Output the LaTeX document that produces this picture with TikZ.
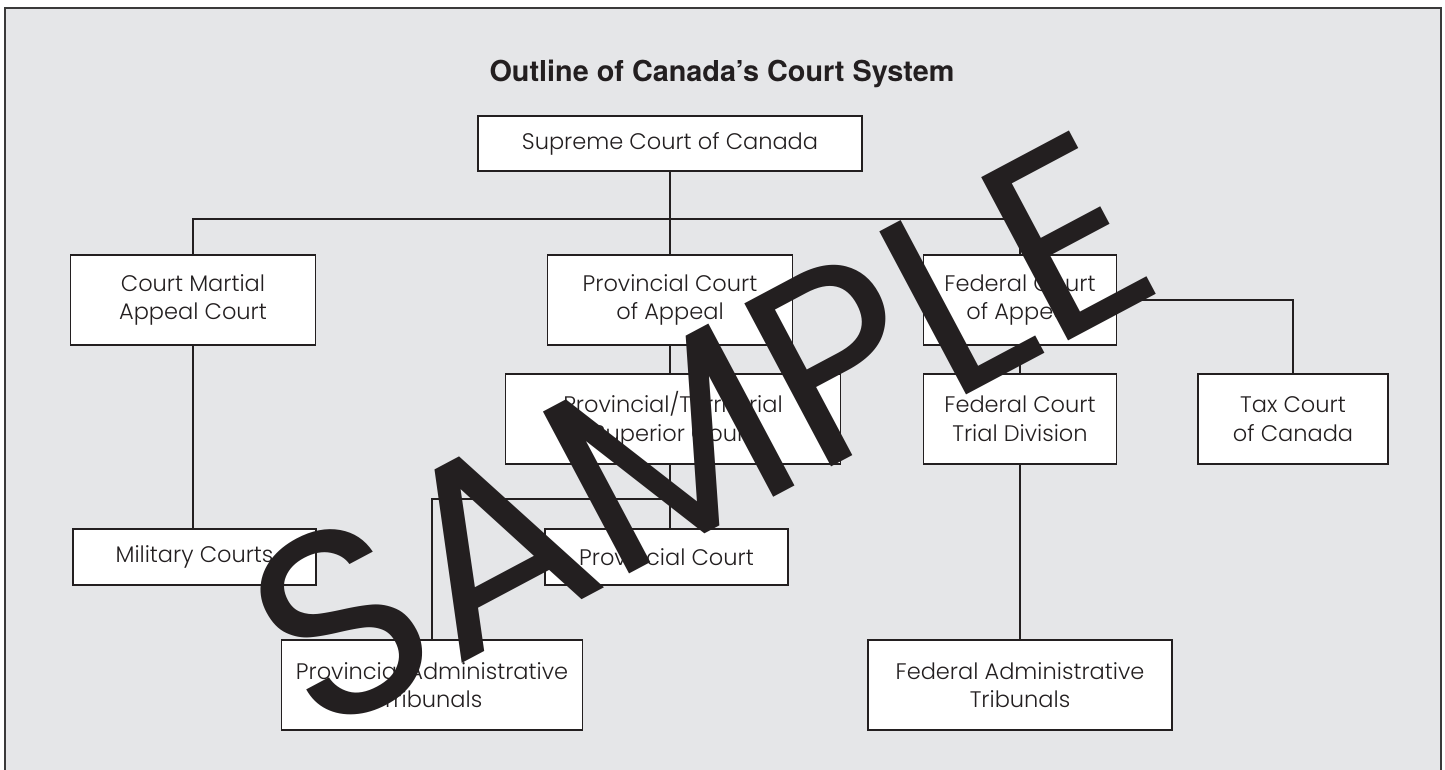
\documentclass[tikz,border=0pt]{standalone}
\usepackage{fontspec}
\setmainfont{Poppins}[UprightFont=* Light]
\newfontfamily\stampfamily{Poppins}
\newfontfamily\headfamily{TeX Gyre Heros}
\definecolor{panelgray}{HTML}{E5E6E8}
\definecolor{inkblack}{HTML}{231F20}
\definecolor{framegray}{HTML}{3A3A3A}
\newcommand{\courtfont}{\fontsize{22.5}{28.7}\selectfont}
\newcommand{\titlefont}{\headfamily\bfseries\fontsize{28.8}{32}\selectfont}
\newcommand{\stampfont}{\stampfamily\fontsize{265}{265}\selectfont}
\tikzstyle{court} = [rectangle, minimum height=90pt, inner sep=0pt, align=center, draw=inkblack, line width=1.8pt, fill=white, text=inkblack, font=\courtfont]
\tikzstyle{lowcourt} = [court, minimum height=56pt]
\tikzstyle{link} = [draw=inkblack, line width=1.6pt]
\tikzstyle{frame} = [draw=framegray, line width=1.8pt, fill=panelgray]
\tikzstyle{stamp} = [rotate=28, inner sep=0pt, text=inkblack, font=\stampfont]

\begin{document}
\begin{tikzpicture}[x=1pt, y=1pt, node distance=119pt]
		\useasboundingbox (0,0) rectangle (1445,769);
		\fill [white] (0,0) rectangle (1445,769);
		\draw [frame] (5,-20) rectangle (1441,761);
		\node (title) [anchor=base, font=\titlefont, text=inkblack] at (722,687) {Outline of Canada’s Court System};
		\node (supreme) [lowcourt, minimum width=384pt, minimum height=55pt] at (670,625.5) {Supreme Court of Canada};
		\node (pca) [court, minimum width=245pt, below of=supreme, yshift=-37.5pt] {Provincial Court\\of Appeal};
		\node (cmac) [court, minimum width=245pt, left of=pca, xshift=-358pt] {Court Martial\\Appeal Court};
		\node (fca) [court, minimum width=193pt, right of=pca, xshift=231pt] {Federal Court\\of Appeal};
		\node (ptsc) [court, minimum width=335pt, below of=pca, xshift=3pt] {Provincial/Territorial\\Superior Court};
		\node (fctd) [court, minimum width=193pt, below of=fca] {Federal Court\\Trial Division};
		\node (tax) [court, minimum width=190pt, right of=fctd, xshift=154pt] {Tax Court\\of Canada};
		\node (mil) [lowcourt, minimum width=243pt, below of=cmac, yshift=-138pt, xshift=1.5pt] {Military Courts};
		\node (pc) [lowcourt, minimum width=243pt, below of=ptsc, yshift=-19pt, xshift=-6.5pt] {Provincial Court};
		\node (pat) [court, minimum width=301pt, below of=pc, xshift=-234.5pt, yshift=-9pt] {Provincial Administrative\\Tribunals};
		\node (fat) [court, minimum width=304pt, below of=fctd, yshift=-147pt] {Federal Administrative\\Tribunals};
		\coordinate (bus) at (670,550);
		\coordinate (split) at (670,270);
		% supreme court branches
		\draw [link] (supreme) -- (bus);
		\draw [link] (cmac) |- (bus) -| (fca);
		\draw [link] (bus) -- (pca);
		% provincial side
		\draw [link] (pca) -- (pca |- ptsc.north);
		\draw [link] (ptsc.south -| pca) -- (pc.north -| pca);
		\draw [link] (pat) |- (split);
		\draw [link] (cmac) -- (cmac |- mil.north);
		% federal side
		\draw [link] (fca) -- (fctd);
		\draw [link] (fctd) -- (fat);
		\draw [link] (fca) -| (tax);
		\node (sample) [stamp] at (700,337) {SAMPLE};
		\end{tikzpicture}
\end{document}
